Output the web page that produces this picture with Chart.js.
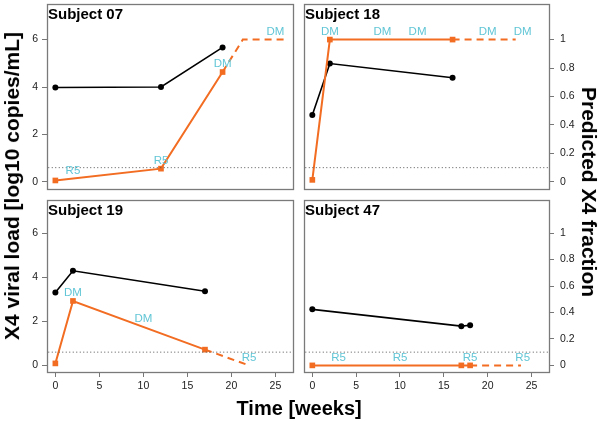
<!DOCTYPE html>
<html>
<head>
<meta charset="utf-8">
<script src="https://cdn.jsdelivr.net/npm/chart.js@4"></script>
<style>
  body { margin: 0; background: #fff; }
  #wrap { position: relative; width: 600px; height: 421px; overflow: hidden; font-family: "Liberation Sans", Arial, sans-serif; }
  canvas { position: absolute; }
  .axt { position: absolute; font-weight: bold; white-space: nowrap; color: #000; transform-origin: center center; }
</style>
</head>
<body>
<div id="wrap">
  <canvas id="p0" width="300" height="200" style="left:0;top:0"></canvas>
  <canvas id="p1" width="300" height="200" style="left:300px;top:0"></canvas>
  <canvas id="p2" width="300" height="226" style="left:0;top:195px"></canvas>
  <canvas id="p3" width="300" height="226" style="left:300px;top:195px"></canvas>
  <div class="axt" id="ylab" style="font-size:21px">X4 viral load [log10 copies/mL]</div>
  <div class="axt" id="y2lab" style="font-size:21px">Predicted X4 fraction</div>
  <div class="axt" id="xlab" style="font-size:20px">Time [weeks]</div>
</div>
<script>
// data
var subjects = ["Subject 07", "Subject 18", "Subject 19", "Subject 47"];
var sampleWeeks = [[0, 12, 19], [0, 2, 16], [0, 2, 17], [0, 17, 18]];
var viralLoad = [[3.98, 4.0, 5.67], [2.82, 4.99, 4.39], [3.30, 4.29, 3.36], [2.54, 1.78, 1.82]];
var x4Fraction = [[0.01, 0.093, 0.772], [0.014, 1, 1], [0.015, 0.487, 0.119], [0, 0, 0]];
var predWeeks = [[19, 21.3, 26], [16, 23.2], [17, 22], [18, 23.8]];
var predFraction = [[0.772, 1, 1], [1, 1], [0.119, 0], [0, 0]];
var callWeeks = [[2, 12, 19, 25], [2, 8, 12, 20, 24], [2, 10, 22], [3, 10, 18, 24]];
var callFraction = [[0.024, 0.093, 0.772, 1], [1, 1, 1, 1, 1], [0.487, 0.291, 0], [0, 0, 0, 0]];
var callText = [["R5", "R5", "DM", "DM"], ["DM", "DM", "DM", "DM", "DM"], ["DM", "DM", "R5"], ["R5", "R5", "R5", "R5"]];
var threshold = 0.1;
var weekTicks = [0, 5, 10, 15, 20, 25];
var loadTicks = [0, 2, 4, 6];
var fracTicks = [0, 0.2, 0.4, 0.6, 0.8, 1];

var FONT = "'Liberation Sans', Arial, sans-serif";
Chart.defaults.font.family = FONT;
var orange = "#f26c22";
var cyan = "#62c6d6";

function pts(xs, ys) {
    return xs.map(function (x, i) { return { x: x, y: ys[i] }; });
}

var panelPlugin = {
    id: "panelDeco",
    afterDatasetsDraw: function (chart) {
        var ctx = chart.ctx;
        var a = chart.chartArea;
        var i = chart.options.plugins.panelDeco.idx;
        var xs = chart.scales.x, ys = chart.scales.y2;
        ctx.save();
        ctx.fillStyle = cyan;
        ctx.font = "11.5px " + FONT;
        ctx.textAlign = "center";
        ctx.textBaseline = "middle";
        callWeeks[i].forEach(function (w, k) {
            ctx.fillText(callText[i][k], xs.getPixelForValue(w), ys.getPixelForValue(callFraction[i][k]) - 8);
        });
        ctx.strokeStyle = "#7a7a7a";
        ctx.lineWidth = 1.3;
        ctx.strokeRect(Math.round(a.left) + 0.5, Math.round(a.top) + 0.5, Math.round(a.right - a.left), Math.round(a.bottom - a.top));
        ctx.fillStyle = "#000";
        ctx.font = "bold 15px " + FONT;
        ctx.textAlign = "left";
        ctx.textBaseline = "alphabetic";
        ctx.fillText(subjects[i], a.left + 1, a.top + 15);
        ctx.restore();
    }
};

// fixed axis sizes so the four panels line up
function fixSize(prop, size) {
    return function (s) {
        s.paddingTop = 0; s.paddingBottom = 0; s.paddingLeft = 0; s.paddingRight = 0;
        s[prop] = s.options.display ? size : 0;
    };
}

function makePanel(i, showX, showLoad, showFrac, pad) {
    var tickGrid = { drawOnChartArea: false, drawTicks: true, tickLength: 5, color: "#777" };
    var tickFont = { size: 10.5 };
    new Chart(document.getElementById("p" + i), {
        type: "line",
        data: {
            datasets: [
                { data: [{ x: -2, y: threshold }, { x: 30, y: threshold }], yAxisID: "y2", borderColor: "#555", borderWidth: 1, borderDash: [1, 2.5], pointRadius: 0 },
                { data: pts(predWeeks[i], predFraction[i]), yAxisID: "y2", borderColor: orange, borderWidth: 2, borderDash: [7, 5], pointRadius: 0 },
                { data: pts(sampleWeeks[i], x4Fraction[i]), yAxisID: "y2", borderColor: orange, backgroundColor: orange, borderWidth: 2, pointStyle: "rect", pointRadius: 4, pointBorderWidth: 0 },
                { data: pts(sampleWeeks[i], viralLoad[i]), yAxisID: "y", borderColor: "#000", backgroundColor: "#000", borderWidth: 1.6, pointRadius: 3, pointBorderWidth: 0 }
            ]
        },
        options: {
            responsive: false,
            animation: false,
            layout: { padding: pad },
            plugins: { legend: { display: false }, tooltip: { enabled: false }, panelDeco: { idx: i } },
            scales: {
                x: {
                    type: "linear", min: -0.95, max: 27, display: showX,
                    grid: tickGrid, border: { display: false },
                    ticks: { color: "#222", font: tickFont, padding: 3, maxRotation: 0, autoSkip: false },
                    afterBuildTicks: function (s) { s.ticks = weekTicks.map(function (v) { return { value: v }; }); },
                    afterFit: fixSize("height", 49)
                },
                y: {
                    position: "left", min: -0.3, max: 7.5, display: showLoad,
                    grid: tickGrid, border: { display: false },
                    ticks: { color: "#222", font: tickFont, padding: 4 },
                    afterBuildTicks: function (s) { s.ticks = loadTicks.map(function (v) { return { value: v }; }); },
                    afterFit: fixSize("width", 47)
                },
                y2: {
                    position: "right", min: -0.05, max: 1.25, display: showFrac,
                    grid: tickGrid, border: { display: false },
                    ticks: { color: "#222", font: tickFont, padding: 6, callback: function (v) { return String(Math.round(v * 10) / 10); } },
                    afterBuildTicks: function (s) { s.ticks = fracTicks.map(function (v) { return { value: v }; }); },
                    afterFit: fixSize("width", 51)
                }
            }
        },
        plugins: [panelPlugin]
    });
}

makePanel(0, false, true, false, { left: 0, top: 2, right: 7, bottom: 11 });
makePanel(1, false, false, true, { left: 4, top: 2, right: 0, bottom: 11 });
makePanel(2, true, true, false, { left: 0, top: 5, right: 7, bottom: 0 });
makePanel(3, true, false, true, { left: 4, top: 5, right: 0, bottom: 0 });

function place(id, cx, cy, rot) {
    var el = document.getElementById(id);
    var w = el.offsetWidth, h = el.offsetHeight;
    el.style.left = (cx - w / 2) + "px";
    el.style.top = (cy - h / 2) + "px";
    el.style.transform = "rotate(" + rot + "deg)";
}
place("ylab", 12, 186, -90);
place("y2lab", 589, 192, 90);
place("xlab", 299, 408, 0);
</script>
</body>
</html>
